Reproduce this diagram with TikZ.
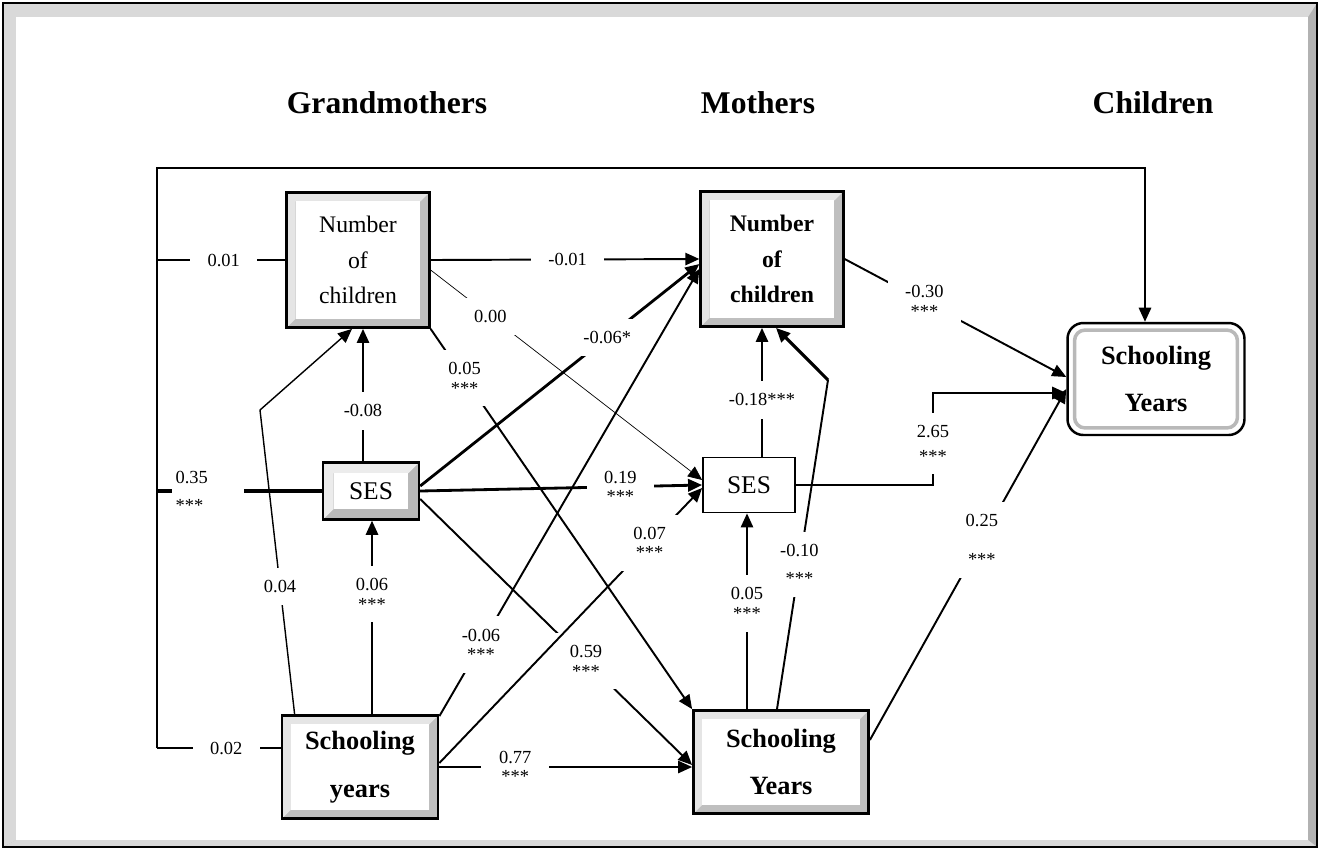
\documentclass[tikz,border=0pt]{standalone}
\usepackage{fontspec}
\setmainfont{Liberation Serif}
\usetikzlibrary{arrows.meta,calc}

\tikzset{
bevel/.style n args={3}{fill=#2, path picture={
  \coordinate (pnw) at (path picture bounding box.north west);
  \coordinate (pse) at (path picture bounding box.south east);
  \fill[#1] (pnw) -- (pnw -| pse) -- ($(pnw -| pse)+(-#3,-#3)$) -- ($(pnw)+(#3,-#3)$)
    -- ($(pnw |- pse)+(#3,#3)$) -- (pnw |- pse) -- cycle;
  \fill[white] ($(pnw)+(#3,-#3)$) rectangle ($(pse)+(-#3,#3)$);
}}
}

\begin{document}
\begin{tikzpicture}[x=0.02cm, y=-0.02cm,
heading/.style={font=\fontsize{18}{20}\selectfont\bfseries},
numbox/.style={draw, line width=1.6pt, bevel={gray!20}{gray!50}{5pt}, minimum width=2.85cm, minimum height=2.7cm, align=center, inner sep=0pt, font=\fontsize{13.5}{20}\selectfont},
schoolbox/.style={draw, line width=1.6pt, bevel={gray!20}{gray!50}{5pt}, minimum height=2.06cm, align=center, inner sep=0pt, font=\fontsize{15}{27}\selectfont\bfseries},
sesbox/.style={draw, line width=1.4pt, bevel={gray!15}{gray!55}{6pt}, minimum width=1.92cm, minimum height=1.14cm, font=\fontsize{14.5}{17}\selectfont},
plainbox/.style={draw, line width=1pt, fill=white, minimum width=1.84cm, minimum height=1.1cm, font=\fontsize{14.5}{17}\selectfont},
childbox/.style={draw, line width=1.4pt, rounded corners=9pt, fill=white, minimum width=3.54cm, minimum height=2.24cm, align=center, inner sep=0pt, font=\fontsize{15}{27}\selectfont\bfseries,
  path picture={\draw[gray!55, line width=2pt, rounded corners=6pt] ([shift={(4pt,-4pt)}]path picture bounding box.north west) rectangle ([shift={(-4pt,4pt)}]path picture bounding box.south east);}},
plain/.style={line width=1.1pt},
line/.style={-{Triangle[length=8pt,width=7pt]}, line width=1.1pt},
lbl/.style={fill=white, inner xsep=10pt, inner ysep=7pt, align=center, font=\fontsize{10.5}{11}\selectfont}
]
\useasboundingbox (0,0) rectangle (1320,850);
% frame
\fill[gray!60] (3,3) rectangle (1317,847);
\fill[gray!30] (3,3) -- (1317,3) -- (1308,17) -- (16,17) -- (16,840) -- (3,847) -- cycle;
\fill[gray!30] (3,847) -- (1317,847) -- (1308,840) -- (16,840) -- cycle;
\fill[white] (16,17) rectangle (1308,840);
\draw[line width=0.8pt] (3,3) rectangle (1317,847);

\node[heading] (hgm) at (387,103) {Grandmothers};
\node[heading] (hmo) at (758,103) {Mothers};
\node[heading] (hch) at (1153,103) {Children};

\node[numbox] (gnum) at (358,260) {Number\\of\\children};
\node[numbox, font=\fontsize{13.5}{20}\selectfont\bfseries] (mnum) at (772,259) {Number\\of\\children};
\node[sesbox] (gses) at (371,491) {SES};
\node[plainbox] (mses) at (749,485) {SES};
\node[schoolbox, minimum width=3.12cm] (gsch) at (360,767) {Schooling\\years};
\node[schoolbox, minimum width=3.5cm] (msch) at (781,762) {Schooling\\Years};
\node[childbox] (csch) at (1156,379) {Schooling\\Years};

\coordinate (tl) at (157,168);
\coordinate (tr) at (1145,168);
\coordinate (bl) at (157,748);
\coordinate (kinkG) at (260,410);
\coordinate (kinkM) at (828,380);
\coordinate (elbow) at (933,393);
\coordinate (mTop) at ($(mses.north)+(13,0)$);
\coordinate (msTop) at ($(msch.north)+(-34,0)$);

% grandmothers -> children
\draw[plain] (gnum.west) -- node[lbl, pos=0.48]{0.01} (gnum.west -| bl);
\draw[plain, line width=1.8pt] (gses.west) -- node[lbl, pos=0.69, inner xsep=2pt, text width=1.3cm, align=left]{0.35\\[5pt]***} (gses.west -| bl);
\draw[plain] (gsch.west |- bl) -- node[lbl, pos=0.44]{0.02} (bl);
\draw[line] (bl) -- (tl) -- (tr) -- (tr |- csch.north);

% grandmothers -> mothers
\draw[line] (gnum.east) -- node[lbl, pos=0.51]{-0.01} (mnum.west);
\draw[line, line width=0.4pt] ($(gnum.east)+(0,10)$) -- node[lbl, pos=0.22]{0.00} ($(mses.west)+(0,-5)$);
\draw[line] (gnum.south east) -- node[lbl, pos=0.13]{0.05\\***} (msch.north west);
\draw[line] ($(gses.north)+(-8,0)$) -- node[lbl, pos=0.38]{-0.08} ($(gnum.south)+(5,0)$);
\draw[line, line width=0.8pt] ($(gsch.north west)+(14,0)$) -- node[lbl, pos=0.42]{0.04} (kinkG) -- ($(gnum.south)+(-6,0)$);
\draw[line] ($(gsch.north)+(12,0)$) -- node[lbl, pos=0.62]{0.06\\***} ($(gses.south)+(1,0)$);
\draw[line, line width=1.6pt] ($(gses.east)+(0,-5)$) -- node[lbl, pos=0.67]{-0.06*} ($(mnum.west)+(0,5)$);
\draw[line, line width=1.6pt] (gses.east) -- node[lbl, pos=0.71]{0.19\\***} (mses.west);
\draw[line] ($(gses.east)+(0,8)$) -- node[lbl, pos=0.61]{0.59\\***} ($(msch.west)+(0,3)$);
\draw[line] ($(gsch.north east)+(0,2)$) -- node[lbl, pos=0.16]{-0.06\\***} ($(mnum.west)+(0,10)$);
\draw[line] ($(gsch.east)+(0,-4)$) -- node[lbl, pos=0.8]{0.07\\***} ($(mses.west)+(0,3)$);
\draw[line] (gsch.east) -- node[lbl, pos=0.3]{0.77\\***} (gsch.east -| msch.west);

% mothers
\draw[line] (mTop) -- node[lbl, pos=0.44]{-0.18***} (mTop |- mnum.south);
\draw[line] (msTop) -- node[lbl, pos=0.54]{0.05\\***} (msTop |- mses.south);
\draw[plain] ($(msch.north)+(-4,0)$) -- node[lbl, pos=0.44]{-0.10\\[5pt]***} (kinkM);
\draw[line, line width=1.8pt] (kinkM) -- ($(mnum.south)+(4,0)$);

% mothers -> children
\draw[line] (mnum.east) -- node[lbl, pos=0.36]{-0.30\\***} ($(csch.west)+(0,-2)$);
\draw[line] (mses.east) -- (mses.east -| elbow) -- node[lbl, pos=0.45]{2.65\\[3pt]***} (elbow) -- (elbow -| csch.west);
\draw[line] ($(msch.east)+(0,-22)$) -- node[lbl, pos=0.57]{0.25\\[11pt]***} ($(csch.west)+(0,10)$);
\end{tikzpicture}
\end{document}
